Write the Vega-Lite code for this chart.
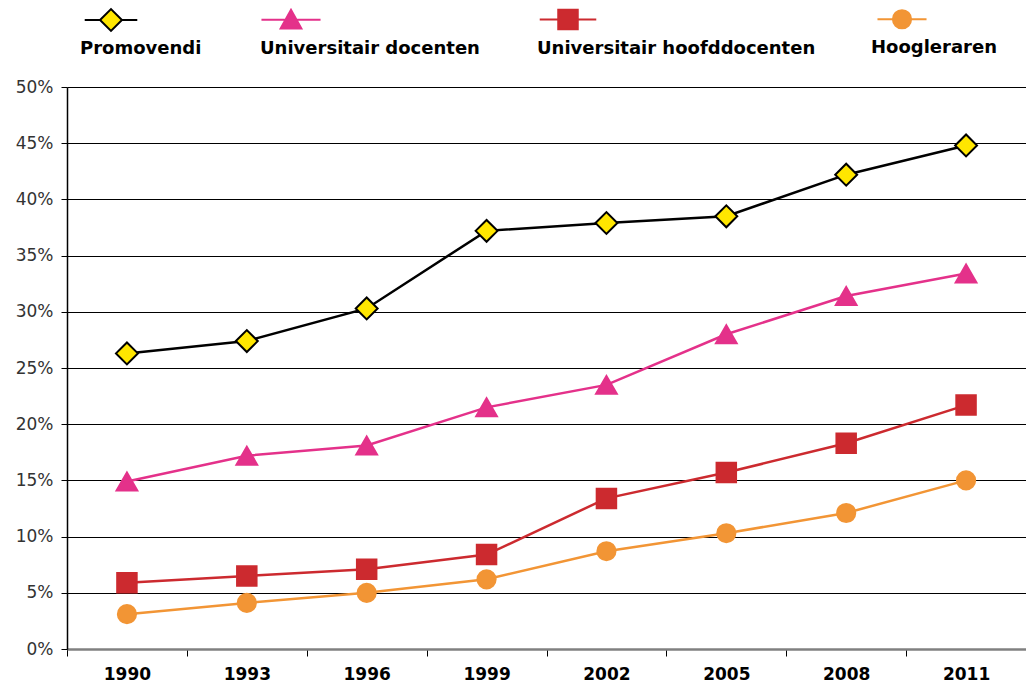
{
  "$schema": "https://vega.github.io/schema/vega-lite/v6.json",
  "autosize": "none",
  "width": 959,
  "height": 562,
  "padding": {"left": 67, "top": 87, "right": 0, "bottom": 42},
  "background": "white",
  "config": {
    "view": {"stroke": null},
    "font": "DejaVu Sans"
  },
  "data": {
    "values": [
      {"year": "1990", "series": "Promovendi", "value": 0.263},
      {"year": "1993", "series": "Promovendi", "value": 0.274},
      {"year": "1996", "series": "Promovendi", "value": 0.303},
      {"year": "1999", "series": "Promovendi", "value": 0.372},
      {"year": "2002", "series": "Promovendi", "value": 0.379},
      {"year": "2005", "series": "Promovendi", "value": 0.385},
      {"year": "2008", "series": "Promovendi", "value": 0.422},
      {"year": "2011", "series": "Promovendi", "value": 0.448},
      {"year": "1990", "series": "Universitair docenten", "value": 0.149},
      {"year": "1993", "series": "Universitair docenten", "value": 0.172},
      {"year": "1996", "series": "Universitair docenten", "value": 0.181},
      {"year": "1999", "series": "Universitair docenten", "value": 0.215},
      {"year": "2002", "series": "Universitair docenten", "value": 0.235},
      {"year": "2005", "series": "Universitair docenten", "value": 0.280},
      {"year": "2008", "series": "Universitair docenten", "value": 0.314},
      {"year": "2011", "series": "Universitair docenten", "value": 0.334},
      {"year": "1990", "series": "Universitair hoofddocenten", "value": 0.059},
      {"year": "1993", "series": "Universitair hoofddocenten", "value": 0.065},
      {"year": "1996", "series": "Universitair hoofddocenten", "value": 0.071},
      {"year": "1999", "series": "Universitair hoofddocenten", "value": 0.084},
      {"year": "2002", "series": "Universitair hoofddocenten", "value": 0.134},
      {"year": "2005", "series": "Universitair hoofddocenten", "value": 0.157},
      {"year": "2008", "series": "Universitair hoofddocenten", "value": 0.183},
      {"year": "2011", "series": "Universitair hoofddocenten", "value": 0.217},
      {"year": "1990", "series": "Hoogleraren", "value": 0.031},
      {"year": "1993", "series": "Hoogleraren", "value": 0.041},
      {"year": "1996", "series": "Hoogleraren", "value": 0.050},
      {"year": "1999", "series": "Hoogleraren", "value": 0.062},
      {"year": "2002", "series": "Hoogleraren", "value": 0.087},
      {"year": "2005", "series": "Hoogleraren", "value": 0.103},
      {"year": "2008", "series": "Hoogleraren", "value": 0.121},
      {"year": "2011", "series": "Hoogleraren", "value": 0.150}
    ]
  },
  "encoding": {
    "x": {
      "field": "year", "type": "ordinal",
      "scale": {"type": "band", "paddingInner": 0, "paddingOuter": 0},
      "axis": {
        "title": null, "labelAngle": 0, "tickBand": "extent",
        "domainColor": "#808080", "domainWidth": 2.5,
        "tickColor": "#000000", "tickSize": 7, "tickWidth": 1,
        "labelFont": "DejaVu Sans", "labelFontWeight": "bold", "labelFontSize": 17,
        "labelColor": "#000000", "labelPadding": 10, "grid": false
      }
    },
    "y": {
      "field": "value", "type": "quantitative",
      "scale": {"domain": [0, 0.5], "nice": false},
      "axis": {
        "title": null, "format": ".0%", "values": [0, 0.05, 0.1, 0.15, 0.2, 0.25, 0.3, 0.35, 0.4, 0.45, 0.5],
        "grid": true, "gridColor": "#000000", "gridWidth": 1, "gridOpacity": 1,
        "domainColor": "#000000", "domainWidth": 1.5,
        "tickColor": "#000000", "tickSize": 6,
        "labelFont": "DejaVu Sans", "labelFontSize": 17, "labelColor": "#333333",
        "labelPadding": 8
      }
    }
  },
  "layer": [
    {
      "mark": {"type": "line", "strokeWidth": 2.5},
      "encoding": {
        "stroke": {
          "field": "series", "type": "nominal",
          "scale": {"domain": ["Promovendi", "Universitair docenten", "Universitair hoofddocenten", "Hoogleraren"], "range": ["#000000", "#E4318A", "#CC2A2F", "#F29535"]}
        }
      }
    },
    {
      "mark": {"type": "point", "filled": true, "opacity": 1, "strokeWidth": 2},
      "encoding": {
        "shape": {
          "condition": [
            {"test": "datum.series === 'Promovendi'", "value": "diamond"},
            {"test": "datum.series === 'Universitair docenten'", "value": "triangle-up"},
            {"test": "datum.series === 'Universitair hoofddocenten'", "value": "square"}
          ],
          "value": "circle"
        },
        "fill": {
          "field": "series", "type": "nominal",
          "scale": {"domain": ["Promovendi", "Universitair docenten", "Universitair hoofddocenten", "Hoogleraren"], "range": ["#FFE600", "#E4318A", "#CC2A2F", "#F29535"]},
          "legend": {
            "title": null, "orient": "none", "legendX": 32, "legendY": -79,
            "direction": "horizontal", "columns": 4, "columnPadding": 55,
            "symbolStrokeWidth": 2,
            "labelFont": "DejaVu Sans", "labelFontWeight": "bold", "labelFontSize": 18, "labelColor": "#000000",
            "labelOffset": 0, "labelLimit": 400,
            "encoding": {
              "labels": {"dx": {"value": -43}, "dy": {"value": 29}},
              "symbols": {"shape": {"value": {"expr": "datum.value === 'Promovendi' ? 'M-2.4,0H-1M1,0H2.4M-1,0L0,-1L1,0L0,1Z' : datum.value === 'Universitair docenten' ? 'M-2.85,0H-0.6M0.6,0H2.85M-1,0.85L0,-0.95L1,0.85Z' : datum.value === 'Universitair hoofddocenten' ? 'M-2.9,0H-1M1,0H2.9M-1,-1H1V1H-1Z' : 'M-2.7,0H-1M1,0H2.7M-1,0A1,1,0,1,0,1,0A1,1,0,1,0,-1,0Z'"}}}
            }
          }
        },
        "stroke": {
          "field": "series", "type": "nominal"
        },
        "size": {
          "field": "series", "type": "nominal",
          "scale": {"domain": ["Promovendi", "Universitair docenten", "Universitair hoofddocenten", "Hoogleraren"], "range": [480, 330, 320, 370]}
        }
      }
    }
  ]
}
